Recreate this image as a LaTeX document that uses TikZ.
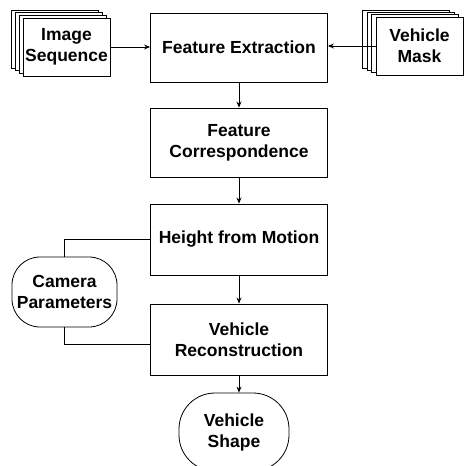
\documentclass[tikz,border=0pt]{standalone}
\usepackage{fontspec}
\setmainfont{Liberation Sans}
\usetikzlibrary{arrows.meta,positioning,calc}
\begin{document}
\begin{tikzpicture}[x=1pt,y=-1pt,
  every node/.style={font=\bfseries\fontsize{17.5}{21}\selectfont, align=center, inner sep=0pt},
  line/.style={line width=0.9pt},
  arr/.style={line width=0.9pt, -{Stealth[length=6pt,width=5pt]}},
  mainbox/.style={draw, line width=0.9pt, minimum width=177pt, fill=white},
  sheet/.style={draw, line width=0.8pt, fill=white, minimum width=87pt, minimum height=58pt},
  roundbox/.style={draw, line width=0.8pt, rounded corners=28pt, fill=white}
]
\useasboundingbox (0,0) rectangle (465,466);

% main chain
\node[mainbox, minimum height=69pt] (fe) at (239,47.5) {Feature Extraction};
\node[mainbox, minimum height=69pt] (fc) at (239,142.5) {Feature\\Correspondence};
\node[mainbox, minimum height=71pt] (hm) at (239,239.5) {Height from Motion};
\node[mainbox, minimum height=71pt] (vr) at (239,339.5) {Vehicle\\Reconstruction};

% image sequence stack
\node[sheet] (is3) at (54.5,39) {};
\node[sheet] (is2) at (58.5,41.5) {};
\node[sheet] (is1) at (62.5,44) {};
\node[sheet] (is) at (66.5,47) {Image\\Sequence};

% vehicle mask stack
\node[sheet] (vm3) at (405.5,39) {};
\node[sheet] (vm2) at (410.5,41.5) {};
\node[sheet] (vm1) at (415,43.5) {};
\node[sheet] (vm) at (419.5,46) {Vehicle\\Mask};

% camera parameters
\node[roundbox, minimum width=105pt, minimum height=70pt] (cam) at (64.5,292) {Camera\\Parameters};

% vehicle shape
\node[roundbox, rounded corners=36pt, minimum width=110pt, minimum height=78pt] (vs) at (234,432) {Vehicle\\Shape};

% connectors
\draw[arr] (is.east) -- (is.east -| fe.west);
\draw[arr] (vm.west) -- (vm.west -| fe.east);
\draw[arr] (fe) -- (fc);
\draw[arr] (fc) -- (hm);
\draw[arr] (hm) -- (vr);
\draw[arr] (vr.south) -- (vr.south |- vs.north);
\draw[line] (hm.west) -| (cam.north);
\draw[line] (cam.south) |- ([yshift=-4.5pt]vr.west);
\end{tikzpicture}
\end{document}
